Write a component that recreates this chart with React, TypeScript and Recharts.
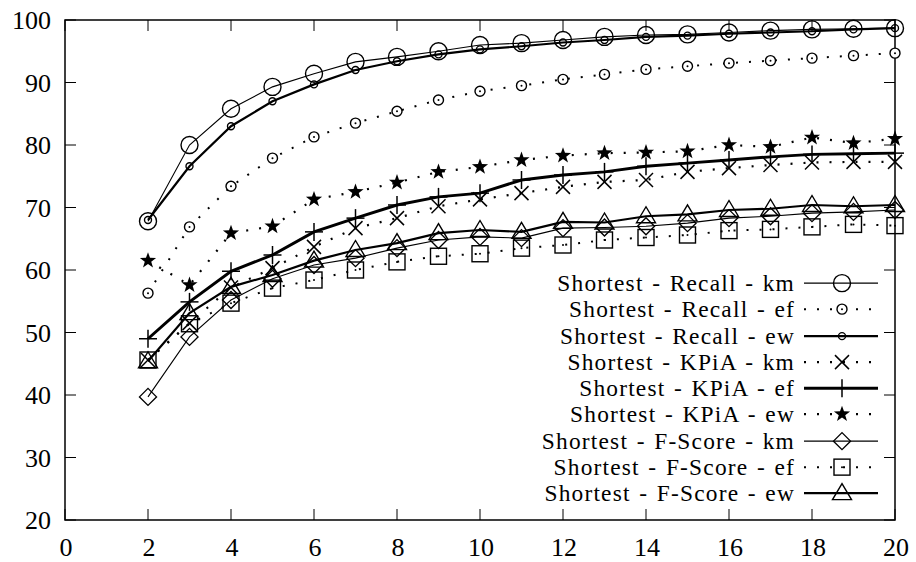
import React from 'react'
import { LineChart, Line, XAxis, YAxis, ReferenceArea, Legend } from 'recharts'

// k values on the x axis
const K = [2, 3, 4, 5, 6, 7, 8, 9, 10, 11, 12, 13, 14, 15, 16, 17, 18, 19, 20]

const recallKm = [67.8, 80.0, 85.8, 89.3, 91.4, 93.3, 94.1, 95.0, 96.0, 96.3, 96.8, 97.3, 97.6, 97.7, 98.0, 98.3, 98.5, 98.6, 98.7]
const recallEf = [56.3, 66.9, 73.4, 77.9, 81.3, 83.5, 85.4, 87.2, 88.6, 89.5, 90.5, 91.3, 92.1, 92.6, 93.1, 93.5, 93.9, 94.3, 94.7]
const recallEw = [68.0, 76.6, 83.0, 87.0, 89.7, 92.0, 93.4, 94.5, 95.3, 95.8, 96.4, 96.8, 97.3, 97.5, 97.8, 98.0, 98.2, 98.5, 98.7]
const kpiaKm = [45.6, 51.5, 57.2, 60.3, 63.7, 66.7, 68.3, 70.2, 71.3, 72.3, 73.3, 74.1, 74.4, 75.7, 76.3, 76.8, 77.2, 77.3, 77.3]
const kpiaEf = [49.0, 54.9, 59.8, 62.4, 66.1, 68.3, 70.4, 71.7, 72.3, 74.4, 75.2, 75.7, 76.6, 77.1, 77.6, 78.1, 78.5, 78.6, 78.7]
const kpiaEw = [61.5, 57.6, 65.9, 67.0, 71.3, 72.5, 74.0, 75.7, 76.5, 77.6, 78.3, 78.7, 78.8, 79.0, 80.0, 79.7, 81.2, 80.3, 81.0]
const fscoreKm = [39.7, 49.3, 55.2, 58.6, 60.8, 61.9, 63.5, 64.8, 65.3, 65.1, 66.7, 66.8, 67.0, 67.5, 68.3, 68.6, 69.1, 69.3, 69.6]
const fscoreEf = [45.6, 51.4, 54.7, 57.1, 58.4, 60.0, 61.3, 62.2, 62.6, 63.5, 64.0, 64.8, 65.2, 65.6, 66.3, 66.5, 66.9, 67.3, 67.1]
const fscoreEw = [45.4, 53.1, 57.3, 59.2, 61.5, 63.2, 64.3, 65.9, 66.4, 66.1, 67.7, 67.6, 68.6, 68.9, 69.6, 69.8, 70.4, 70.2, 70.4]

const xTicks = [0, 2, 4, 6, 8, 10, 12, 14, 16, 18, 20]
const yTicks = [20, 30, 40, 50, 60, 70, 80, 90, 100]

type Kind = 'bigCircle' | 'midCircle' | 'smallCircle' | 'cross' | 'plus' | 'star' | 'diamond' | 'square' | 'triangle'

interface SeriesDef {
  key: string
  name: string
  values: number[]
  kind: Kind
  width: number
  dotted: boolean
}

const series: SeriesDef[] = [
  { key: 'rkm', name: 'Shortest - Recall - km', values: recallKm, kind: 'bigCircle', width: 1.1, dotted: false },
  { key: 'ref', name: 'Shortest - Recall - ef', values: recallEf, kind: 'midCircle', width: 2, dotted: true },
  { key: 'rew', name: 'Shortest - Recall - ew', values: recallEw, kind: 'smallCircle', width: 2.2, dotted: false },
  { key: 'kkm', name: 'Shortest - KPiA - km', values: kpiaKm, kind: 'cross', width: 2.2, dotted: true },
  { key: 'kef', name: 'Shortest - KPiA - ef', values: kpiaEf, kind: 'plus', width: 3, dotted: false },
  { key: 'kew', name: 'Shortest - KPiA - ew', values: kpiaEw, kind: 'star', width: 2.2, dotted: true },
  { key: 'fkm', name: 'Shortest - F-Score - km', values: fscoreKm, kind: 'diamond', width: 1.1, dotted: false },
  { key: 'fef', name: 'Shortest - F-Score - ef', values: fscoreEf, kind: 'square', width: 2, dotted: true },
  { key: 'few', name: 'Shortest - F-Score - ew', values: fscoreEw, kind: 'triangle', width: 2.2, dotted: false },
]

const data = K.map((k, i) => {
  const row: Record<string, number> = { k }
  series.forEach((s) => {
    row[s.key] = s.values[i]
  })
  return row
})

const W = 916
const H = 562
const PLOT_LEFT = 65
const PLOT_RIGHT = 895
const PLOT_TOP = 20
const PLOT_BOTTOM = 520
const FONT = 'Liberation Serif'
const ROW_H = 26.25

function starPoints(cx: number, cy: number, ro: number, ri: number) {
  const pts: string[] = []
  for (let i = 0; i < 10; i++) {
    const r = i % 2 === 0 ? ro : ri
    const a = -Math.PI / 2 + (i * Math.PI) / 5
    pts.push(`${cx + r * Math.cos(a)},${cy + r * Math.sin(a)}`)
  }
  return pts.join(' ')
}

function marker(kind: Kind, cx: number, cy: number) {
  const st = { fill: '#fff', stroke: '#000', strokeWidth: 1.4 }
  switch (kind) {
    case 'bigCircle':
      return <circle cx={cx} cy={cy} r={8.5} {...st} fill="none" />
    case 'midCircle':
      return (
        <g>
          <circle cx={cx} cy={cy} r={5} {...st} />
          <circle cx={cx} cy={cy} r={1} fill="#000" />
        </g>
      )
    case 'smallCircle':
      return <circle cx={cx} cy={cy} r={3.5} {...st} fill="none" />
    case 'cross':
      return (
        <g stroke="#000" strokeWidth={1.5}>
          <line x1={cx - 7} y1={cy - 7} x2={cx + 7} y2={cy + 7} />
          <line x1={cx - 7} y1={cy + 7} x2={cx + 7} y2={cy - 7} />
        </g>
      )
    case 'plus':
      return (
        <g stroke="#000" strokeWidth={1.5}>
          <line x1={cx - 9} y1={cy} x2={cx + 9} y2={cy} />
          <line x1={cx} y1={cy - 9} x2={cx} y2={cy + 9} />
        </g>
      )
    case 'star':
      return <polygon points={starPoints(cx, cy, 8.5, 3.4)} fill="#000" />
    case 'diamond':
      return <polygon points={`${cx},${cy - 8.5} ${cx + 8.5},${cy} ${cx},${cy + 8.5} ${cx - 8.5},${cy}`} {...st} fill="none" />
    case 'square':
      return (
        <g>
          <rect x={cx - 8} y={cy - 8} width={16} height={16} {...st} fill="none" />
          <circle cx={cx} cy={cy} r={1} fill="#000" />
        </g>
      )
    case 'triangle':
      return <polygon points={`${cx},${cy - 9.5} ${cx + 9.5},${cy + 6.5} ${cx - 9.5},${cy + 6.5}`} {...st} fill="none" />
  }
}

const XTick = (props: any) => {
  const { x, payload } = props
  return (
    <g>
      <line x1={x} y1={PLOT_BOTTOM} x2={x} y2={PLOT_BOTTOM - 11} stroke="#000" />
      <line x1={x} y1={PLOT_TOP} x2={x} y2={PLOT_TOP + 11} stroke="#000" />
      <text x={x + 1} y={PLOT_BOTTOM + 36} textAnchor="middle" style={{ fontFamily: FONT, fontSize: 26 }} fill="#000">
        {payload.value}
      </text>
    </g>
  )
}

const YTick = (props: any) => {
  const { y, payload } = props
  return (
    <g>
      <line x1={PLOT_LEFT} y1={y} x2={PLOT_LEFT + 11} y2={y} stroke="#000" />
      <line x1={PLOT_RIGHT} y1={y} x2={PLOT_RIGHT - 11} y2={y} stroke="#000" />
      <text x={PLOT_LEFT - 14} y={y + 9} textAnchor="end" style={{ fontFamily: FONT, fontSize: 26 }} fill="#000">
        {payload.value}
      </text>
    </g>
  )
}

// legend rows are packed tight in the original, so the text is a bit smaller and spaced out
const renderLegend = () => (
  <div style={{ fontFamily: FONT, fontSize: 23.4, color: '#000' }}>
    {series.map((s) => (
      <div key={s.key} style={{ display: 'flex', justifyContent: 'flex-end', alignItems: 'center', height: ROW_H }}>
        <span style={{ whiteSpace: 'nowrap', lineHeight: `${ROW_H}px`, letterSpacing: 1.2, wordSpacing: 1.5 }}>
          {s.name}
        </span>
        <svg width={80} height={ROW_H} style={{ marginLeft: 5 }}>
          <line
            x1={4}
            y1={ROW_H / 2}
            x2={78}
            y2={ROW_H / 2}
            stroke="#000"
            strokeWidth={s.width}
            strokeDasharray={s.dotted ? '2 11' : undefined}
          />
          {marker(s.kind, 42, ROW_H / 2)}
        </svg>
      </div>
    ))}
  </div>
)

export default function App() {
  return (
    <div style={{ position: 'absolute', left: 0, top: 0, width: W, height: H, background: '#fff', fontFamily: FONT }}>
      <LineChart
        width={W}
        height={H}
        data={data}
        margin={{ top: PLOT_TOP, right: W - PLOT_RIGHT, bottom: 0, left: 0 }}
      >
        <XAxis
          dataKey="k"
          type="number"
          domain={[0, 20]}
          ticks={xTicks}
          height={H - PLOT_BOTTOM}
          tick={<XTick />}
          tickLine={false}
          axisLine={false}
          interval={0}
        />
        <YAxis
          type="number"
          domain={[20, 100]}
          ticks={yTicks}
          width={PLOT_LEFT}
          tick={<YTick />}
          tickLine={false}
          axisLine={false}
          interval={0}
        />
        <ReferenceArea x1={0} x2={20} y1={20} y2={100} fill="none" stroke="#000" strokeWidth={1.5} />
        {series.map((s) => (
          <Line
            key={s.key}
            dataKey={s.key}
            name={s.name}
            type="linear"
            stroke="#000"
            strokeWidth={s.width}
            strokeDasharray={s.dotted ? '2 11' : undefined}
            isAnimationActive={false}
            dot={(p: any) => <g key={`${s.key}-${p.index}`}>{marker(s.kind, p.cx, p.cy)}</g>}
            activeDot={false}
          />
        ))}
        <Legend
          layout="vertical"
          align="center"
          verticalAlign="middle"
          content={renderLegend}
          wrapperStyle={{ left: 500, top: 270, width: 380 }}
        />
      </LineChart>
    </div>
  )
}
